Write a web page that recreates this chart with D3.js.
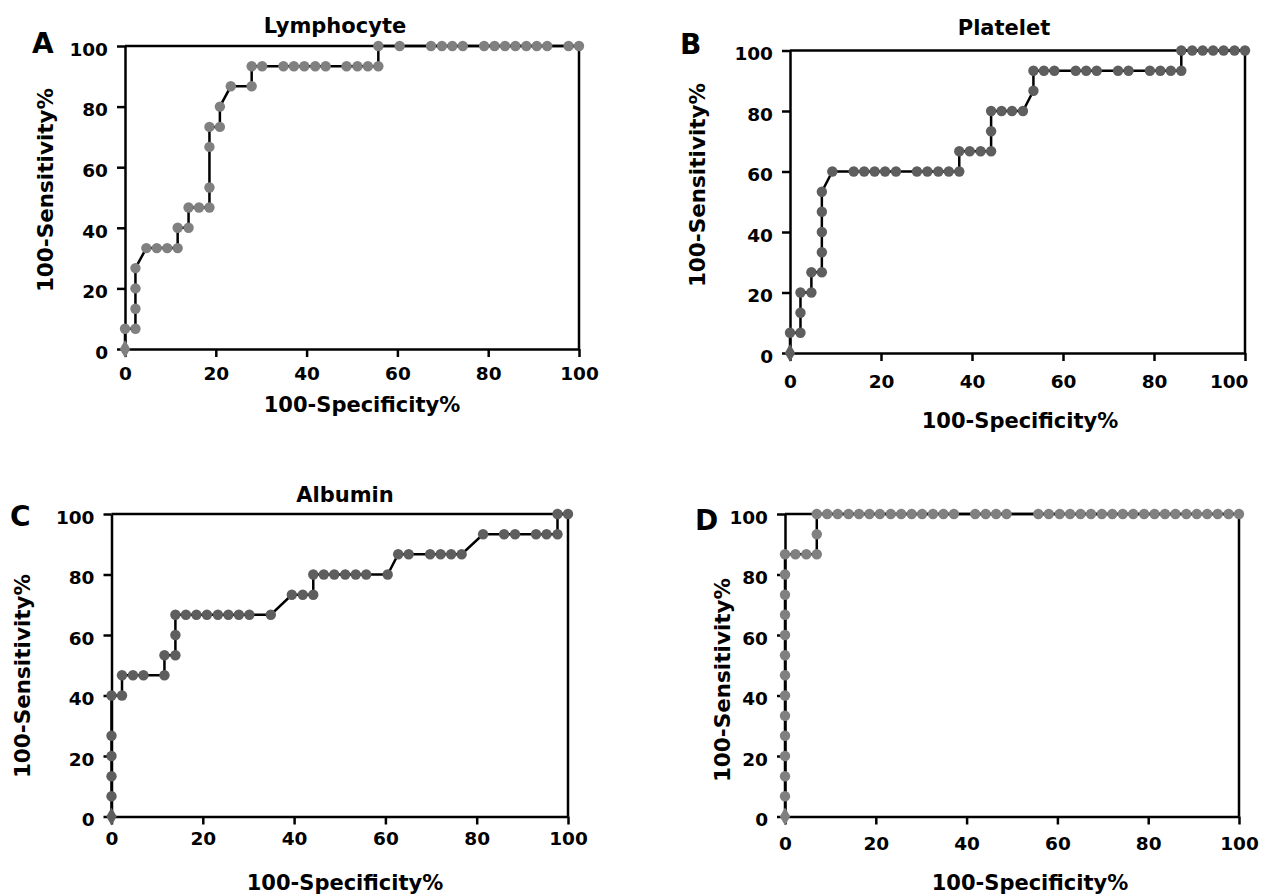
<!DOCTYPE html>
<html>
<head>
<meta charset="utf-8">
<script src="https://d3js.org/d3.v7.min.js"></script>
<style>
    body { margin: 0; background: #fff; }
    svg text { font-family: "DejaVu Sans", sans-serif; font-weight: bold; fill: #000; }
</style>
</head>
<body>
<script>
// tick values, same for both axes of every panel
var axisTicks = [0, 20, 40, 60, 80, 100];

// A - Lymphocyte (100-Specificity%, 100-Sensitivity%)
var lymphocyteX = [0, 0, 2.3, 2.3, 2.3, 2.3, 4.7, 7.0, 9.3, 11.6, 11.6, 14.0, 14.0, 16.3, 18.6, 18.6, 18.6, 18.6,
    20.9, 20.9, 23.3, 27.9, 27.9, 30.2, 34.9, 37.2, 39.5, 41.9, 44.2, 48.8, 51.2, 53.5, 55.8, 55.8, 60.5,
    67.4, 69.8, 72.1, 74.4, 79.1, 81.4, 83.7, 86.0, 88.4, 90.7, 93.0, 97.7, 100];
var lymphocyteY = [0, 6.7, 6.7, 13.3, 20, 26.7, 33.3, 33.3, 33.3, 33.3, 40, 40, 46.7, 46.7, 46.7, 53.3, 66.7, 73.3,
    73.3, 80, 86.7, 86.7, 93.3, 93.3, 93.3, 93.3, 93.3, 93.3, 93.3, 93.3, 93.3, 93.3, 93.3, 100, 100,
    100, 100, 100, 100, 100, 100, 100, 100, 100, 100, 100, 100, 100];

// B - Platelet
var plateletX = [0, 0, 2.3, 2.3, 2.3, 4.7, 4.7, 7.0, 7.0, 7.0, 7.0, 7.0, 9.3, 14.0, 16.3, 18.6, 20.9, 23.3,
    27.9, 30.2, 32.6, 34.9, 37.2, 37.2, 39.5, 41.9, 44.2, 44.2, 44.2, 46.5, 48.8, 51.2, 53.5, 53.5, 55.8,
    58.1, 62.8, 65.1, 67.4, 72.1, 74.4, 79.1, 81.4, 83.7, 86.0, 86.0, 88.4, 90.7, 93.0, 95.3, 97.7, 100];
var plateletY = [0, 6.7, 6.7, 13.3, 20, 20, 26.7, 26.7, 33.3, 40, 46.7, 53.3, 60, 60, 60, 60, 60, 60,
    60, 60, 60, 60, 60, 66.7, 66.7, 66.7, 66.7, 73.3, 80, 80, 80, 80, 86.7, 93.3, 93.3,
    93.3, 93.3, 93.3, 93.3, 93.3, 93.3, 93.3, 93.3, 93.3, 93.3, 100, 100, 100, 100, 100, 100, 100];

// C - Albumin
var albuminX = [0, 0, 0, 0, 0, 0, 2.3, 2.3, 4.7, 7.0, 11.6, 11.6, 14.0, 14.0, 14.0, 16.3, 18.6, 20.9, 23.3,
    25.6, 27.9, 30.2, 34.9, 39.5, 41.9, 44.2, 44.2, 46.5, 48.8, 51.2, 53.5, 55.8, 60.5, 62.8, 65.1,
    69.8, 72.1, 74.4, 76.7, 81.4, 86.0, 88.4, 93.0, 95.3, 97.7, 97.7, 100];
var albuminY = [0, 6.7, 13.3, 20, 26.7, 40, 40, 46.7, 46.7, 46.7, 46.7, 53.3, 53.3, 60, 66.7, 66.7, 66.7, 66.7, 66.7,
    66.7, 66.7, 66.7, 66.7, 73.3, 73.3, 73.3, 80, 80, 80, 80, 80, 80, 80, 86.7, 86.7,
    86.7, 86.7, 86.7, 86.7, 93.3, 93.3, 93.3, 93.3, 93.3, 93.3, 100, 100];

// D - (no title)
var panelDX = [0, 0, 0, 0, 0, 0, 0, 0, 0, 0, 0, 0, 0, 0, 2.3, 4.7, 7.0, 7.0, 7.0, 9.3, 11.6, 14.0, 16.3,
    18.6, 20.9, 23.3, 25.6, 27.9, 30.2, 32.6, 34.9, 37.2, 41.9, 44.2, 46.5, 48.8, 55.8, 58.1, 60.5, 62.8,
    65.1, 67.4, 69.8, 72.1, 74.4, 76.7, 79.1, 81.4, 83.7, 86.0, 88.4, 90.7, 93.0, 95.3, 97.7, 100];
var panelDY = [0, 6.7, 13.3, 20, 26.7, 33.3, 40, 46.7, 53.3, 60, 66.7, 73.3, 80, 86.7, 86.7, 86.7, 86.7, 93.3, 100, 100, 100, 100, 100,
    100, 100, 100, 100, 100, 100, 100, 100, 100, 100, 100, 100, 100, 100, 100, 100, 100,
    100, 100, 100, 100, 100, 100, 100, 100, 100, 100, 100, 100, 100, 100, 100, 100];

var panels = [
    { letter: "A", title: "Lymphocyte", xs: lymphocyteX, ys: lymphocyteY, color: "#808080",
      left: 125, top: 46, right: 579, bottom: 349, lastTickEnd: false,
      letterAt: [32, 53], titleAt: [335, 33], xTickBase: 380, xLabelAt: [362, 412], yLabelAt: [53, 190] },
    { letter: "B", title: "Platelet", xs: plateletX, ys: plateletY, color: "#5e5e5e",
      left: 790, top: 50.5, right: 1245, bottom: 353, lastTickEnd: true,
      letterAt: [680, 54], titleAt: [1004, 35], xTickBase: 388, xLabelAt: [1020, 428], yLabelAt: [705, 185] },
    { letter: "C", title: "Albumin", xs: albuminX, ys: albuminY, color: "#5e5e5e",
      left: 111.5, top: 514, right: 568, bottom: 816.5, lastTickEnd: false,
      letterAt: [10, 526], titleAt: [345, 502], xTickBase: 845, xLabelAt: [345, 890], yLabelAt: [30, 676] },
    { letter: "D", title: "", xs: panelDX, ys: panelDY, color: "#808080",
      left: 785, top: 514, right: 1239, bottom: 816.5, lastTickEnd: false,
      letterAt: [695, 530], titleAt: [1012, 500], xTickBase: 850, xLabelAt: [1030, 890], yLabelAt: [730, 680] }
];

var svg = d3.select("body").append("svg")
    .attr("width", 1262)
    .attr("height", 896);

function drawPanel(p) {
    var x = d3.scaleLinear().domain([0, 100]).range([p.left, p.right]);
    var y = d3.scaleLinear().domain([0, 100]).range([p.bottom, p.top]);
    var g = svg.append("g");

    // top and right frame
    g.append("path")
        .attr("d", "M" + p.left + "," + p.top + "H" + p.right + "V" + p.bottom)
        .attr("fill", "none")
        .attr("stroke", "#000")
        .attr("stroke-width", 2.5);

    var xAxis = g.append("g")
        .attr("transform", "translate(0," + p.bottom + ")")
        .call(d3.axisBottom(x).tickValues(axisTicks).tickSize(8).tickSizeOuter(0));
    xAxis.selectAll(".tick text")
        .attr("y", p.xTickBase - p.bottom)
        .attr("dy", "0")
        .style("font-size", "18.5px");
    if (p.lastTickEnd) {
        // the right-most label would run off the page, so it hangs left
        xAxis.selectAll(".tick text")
            .filter(function(d) { return d === 100; })
            .attr("text-anchor", "end")
            .attr("x", 3);
    }

    var yAxis = g.append("g")
        .attr("transform", "translate(" + p.left + ",0)")
        .call(d3.axisLeft(y).tickValues(axisTicks).tickSize(8).tickPadding(9).tickSizeOuter(0));
    yAxis.selectAll(".tick text")
        .attr("dy", "0.5em")
        .style("font-size", "18.5px");

    g.selectAll(".domain, .tick line")
        .attr("stroke", "#000")
        .attr("stroke-width", 2.5);
    g.selectAll(".tick text").attr("fill", "#000");

    // curve
    var pts = p.xs.map(function(v, i) { return [v, p.ys[i]]; });
    g.append("path")
        .datum(pts)
        .attr("fill", "none")
        .attr("stroke", "#000")
        .attr("stroke-width", 2.5)
        .attr("d", d3.line().x(function(d) { return x(d[0]); }).y(function(d) { return y(d[1]); }));

    g.selectAll("circle")
        .data(pts.slice(1))
        .enter().append("circle")
        .attr("cx", function(d) { return x(d[0]); })
        .attr("cy", function(d) { return y(d[1]); })
        .attr("r", 5.2)
        .attr("fill", p.color);

    // first point sits on the corner and looks like a diamond
    g.append("path")
        .attr("d", d3.symbol().type(d3.symbolDiamond).size(95))
        .attr("transform", "translate(" + x(pts[0][0]) + "," + y(pts[0][1]) + ")")
        .attr("fill", p.color);

    // texts
    svg.append("text")
        .attr("x", p.letterAt[0]).attr("y", p.letterAt[1])
        .style("font-size", "28px")
        .text(p.letter);

    if (p.title) {
        svg.append("text")
            .attr("x", p.titleAt[0]).attr("y", p.titleAt[1])
            .attr("text-anchor", "middle")
            .style("font-size", "21px")
            .text(p.title);
    }

    svg.append("text")
        .attr("x", p.xLabelAt[0]).attr("y", p.xLabelAt[1])
        .attr("text-anchor", "middle")
        .style("font-size", "21px")
        .text("100-Specificity%");

    svg.append("text")
        .attr("transform", "translate(" + p.yLabelAt[0] + "," + p.yLabelAt[1] + ") rotate(-90)")
        .attr("text-anchor", "middle")
        .style("font-size", "21.5px")
        .text("100-Sensitivity%");
}

panels.forEach(drawPanel);
</script>
</body>
</html>
